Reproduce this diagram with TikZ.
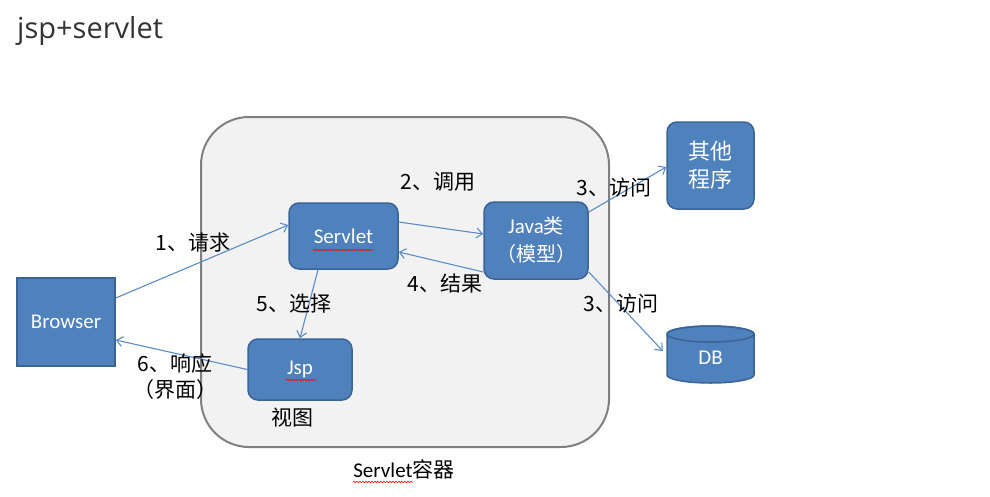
\documentclass[tikz,border=0pt]{standalone}
\usepackage{fontspec}
\setmainfont{Carlito}
\newfontfamily\cjk{Noto Sans CJK SC}
\newfontfamily\ttl{Open Sans}
\usetikzlibrary{calc,arrows.meta,decorations.pathmorphing}
\definecolor{boxfill}{HTML}{4F81BD}
\definecolor{boxborder}{HTML}{3A6396}
\definecolor{arrowc}{HTML}{5B8CC8}
\definecolor{contfill}{HTML}{F2F2F2}
\definecolor{contborder}{HTML}{808080}
\definecolor{titlec}{HTML}{333333}
\tikzset{
  box/.style={draw=boxborder, fill=boxfill, line width=1.5pt, text=white,
    font=\fontsize{21}{28}\selectfont, inner sep=0pt, align=center},
  rbox/.style={box, rounded corners=10pt},
  conn/.style={draw=arrowc, line width=1.1pt, -{Straight Barb[length=6pt,width=10pt]}},
  lbl/.style={font=\cjk\fontsize{21}{26}\selectfont, text=black, inner sep=0pt, align=center},
  squig/.style={draw=red, line width=0.6pt, decorate, decoration={snake, amplitude=0.8pt, segment length=3pt}}
}
\begin{document}
\begin{tikzpicture}[x=1pt,y=-1pt]
\useasboundingbox (0,0) rectangle (990,496);
% title
\node[anchor=west, font=\ttl\fontsize{29}{32}\selectfont, text=titlec, inner sep=0pt] (title) at (17,31) {jsp+servlet};
% container
\node[draw=contborder, fill=contfill, line width=2pt, rounded corners=48pt,
  minimum width=408pt, minimum height=330pt, inner sep=0pt] (cont) at (405,282) {};
% nodes
\node[box, minimum width=98pt, minimum height=88pt] (browser) at (66,322) {Browser};
\node[rbox, minimum width=109pt, minimum height=66pt] (servlet) at (343.5,236) {Servlet};
\node[rbox, minimum width=104pt, minimum height=77pt] (java) at (536,240.5) {Java{\cjk\fontsize{20}{28}\selectfont 类}\\{\cjk\fontsize{20}{28}\selectfont （模型）}};
\node[rbox, minimum width=104pt, minimum height=61pt] (jsp) at (300,369.5) {Jsp};
\node[rbox, minimum width=87pt, minimum height=87pt, font=\cjk\fontsize{22}{28}\selectfont] (other) at (710.5,165.5) {其他\\程序};
% DB cylinder
\draw[draw=boxborder, fill=boxfill, line width=1.5pt]
  (667,334) -- (667,375) arc[start angle=180, end angle=0, x radius=43.5, y radius=8]
  -- (754,334) arc[start angle=0, end angle=-180, x radius=43.5, y radius=8] -- cycle;
\draw[draw=boxborder, line width=1.5pt] (710.5,334) ellipse[x radius=43.5, y radius=8];
\node[minimum width=87pt, minimum height=57pt, inner sep=0pt, text=white, font=\fontsize{21}{24}\selectfont] (db) at (710.5,358) {DB};
% spell-check squiggles
\draw[squig] (313,250) -- (373,250);
\draw[squig] (286,380) -- (316,380);
\draw[squig] (353,482) -- (413,482);
% connectors
\draw[conn] ([yshift=24pt]browser.east) -- ([yshift=11pt]servlet.west);
\draw[conn] ([yshift=14pt]servlet.east) -- ([yshift=6.5pt]java.west);
\draw[conn] ([yshift=-31.5pt]java.west) -- ([yshift=-16pt]servlet.east);
\draw[conn] ([xshift=-25.5pt]servlet.south) -- (jsp.north);
\draw[conn] (jsp.west) -- ([yshift=-18pt]browser.east);
\draw[conn] ([yshift=28.5pt]java.east) -- ([yshift=-1.5pt]other.west);
\draw[conn] ([yshift=-31.5pt]java.east) -- ([xshift=-4pt,yshift=7pt]db.west);
% labels
\node[lbl] (l1) at (193,243) {1、请求};
\node[lbl] (l2) at (438,182) {2、调用};
\node[lbl] (l3a) at (614,188) {3、访问};
\node[lbl] (l4) at (445,284) {4、结果};
\node[lbl] (l3b) at (621,304) {3、访问};
\node[lbl] (l5) at (294,304) {5、选择};
\node[lbl] (l6) at (175,377) {6、响应\\（界面）};
\node[lbl] (lview) at (292,418) {视图};
\node[inner sep=0pt, font=\fontsize{21}{24}\selectfont] (lcont) at (404,469) {Servlet{\cjk 容器}};
\end{tikzpicture}
\end{document}
